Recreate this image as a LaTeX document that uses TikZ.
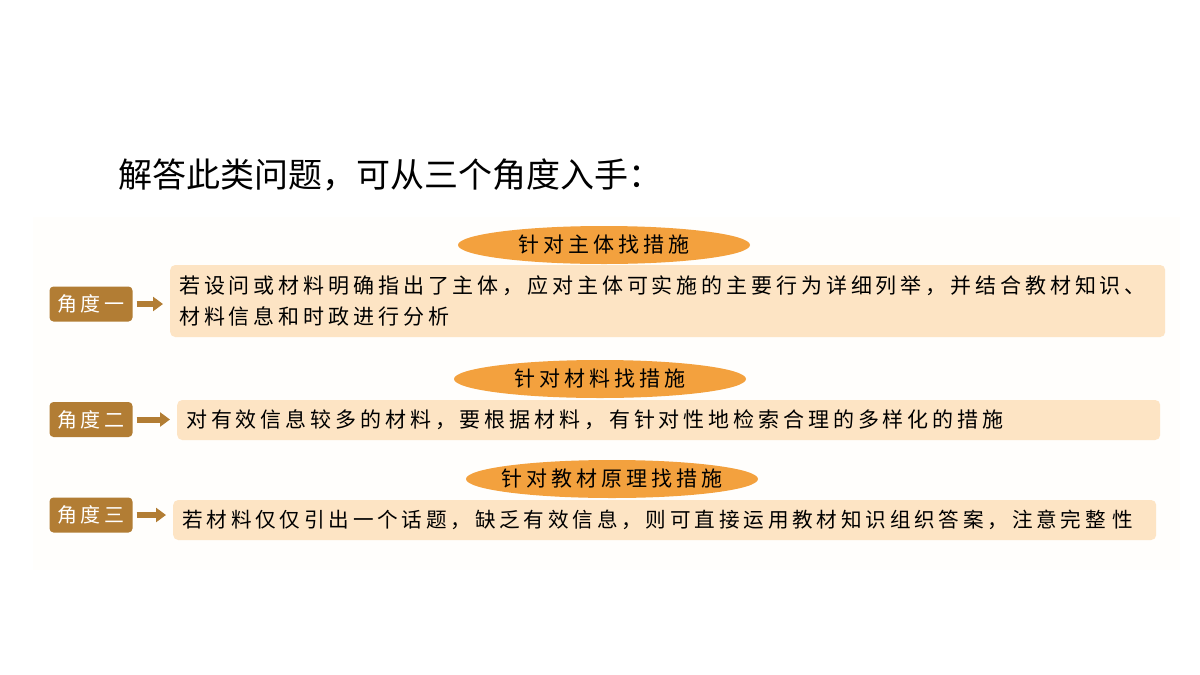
\documentclass[tikz,border=0pt]{standalone}
\usepackage{fontspec}
\setmainfont{Noto Sans CJK SC}
\newfontfamily\notefont[LetterSpace=18.5]{Noto Sans CJK SC}
\usetikzlibrary{positioning,shapes.geometric,arrows.meta}

\definecolor{tagbrown}{RGB}{178,125,52}
\definecolor{hintorange}{RGB}{243,161,62}
\definecolor{notepeach}{RGB}{253,228,196}
\definecolor{bandwhite}{RGB}{255,254,252}

\begin{document}
\begin{tikzpicture}[
        x=1pt, y=-1pt,
        tag/.style={fill=tagbrown, rounded corners=4pt, text=white, minimum width=83pt, minimum height=35pt, inner sep=0pt, font=\notefont\fontsize{20}{20}\selectfont},
        hint/.style={ellipse, fill=hintorange, minimum width=292pt, minimum height=38pt, inner xsep=-20pt, inner ysep=-3pt, font=\notefont\fontsize{21}{21}\selectfont},
        note/.style={fill=notepeach, rounded corners=5pt, align=left, anchor=west, inner xsep=9pt, inner ysep=0pt, font=\notefont\fontsize{21}{31}\selectfont},
        pointer/.style={draw=tagbrown, line width=6pt, -{Triangle[length=10pt, width=14pt]}, shorten <=4pt, shorten >=7pt}
      ]

      \useasboundingbox (0,0) rectangle (1200,675);
      \fill[bandwhite] (33,217) rectangle (1180,570);

      \node (title) at (118,175) [anchor=west, inner sep=0pt, font=\fontsize{34}{34}\selectfont] {解答此类问题，可从三个角度入手：};

      % angle one
      \node (h1) at (604,245) [hint] {针对主体找措施};
      \node (n1) at (170,301) [note, text width=977pt, minimum height=72pt] {若设问或材料明确指出了主体，应对主体可实施的主要行为详细列举，并结合教材知识、\\材料信息和时政进行分析};
      \node (t1) at (91,304) [tag] {角度一};

      % angle two
      \node (h2) at (600,379) [hint] {针对材料找措施};
      \node (n2) at (177,420) [note, text width=965pt, minimum height=40pt] {对有效信息较多的材料，要根据材料，有针对性地检索合理的多样化的措施};
      \node (t2) at (91,419.5) [tag] {角度二};

      % angle three
      \node (h3) at (612,479) [hint] {针对教材原理找措施};
      \node (n3) at (173,520) [note, text width=965pt, minimum height=40pt, font=\notefont\fontsize{20.6}{31}\selectfont] {若材料仅仅引出一个话题，缺乏有效信息，则可直接运用教材知识组织答案，注意完整 性};
      \node (t3) at (91,515) [tag] {角度三};

      \draw[pointer] (t1.east) -- (t1.east -| n1.west);
      \draw[pointer] (t2.east) -- (t2.east -| n2.west);
      \draw[pointer] (t3.east) -- (t3.east -| n3.west);
    \end{tikzpicture}
\end{document}
